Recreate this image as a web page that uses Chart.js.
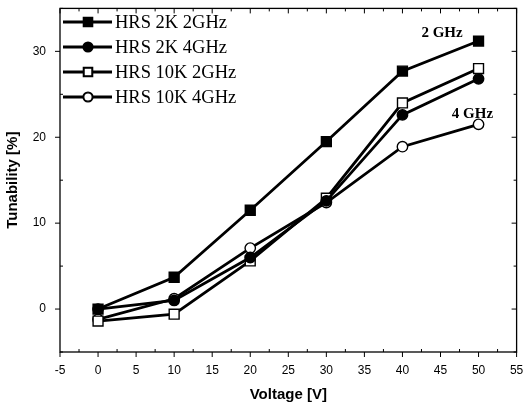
<!DOCTYPE html>
<html>
<head>
<meta charset="utf-8">
<script src="https://cdn.jsdelivr.net/npm/chart.js@4/dist/chart.umd.min.js"></script>
<style>
  html, body { margin: 0; padding: 0; background: #fff; }
  #box { width: 525px; height: 408px; }
</style>
</head>
<body>
<div id="box"><canvas id="tunability"></canvas></div>
<script>
const voltages = [0, 10, 20, 30, 40, 50]
const hrs2k2 = [0.0, 3.7, 11.5, 19.5, 27.7, 31.2]
const hrs2k4 = [0.0, 1.0, 6.0, 12.6, 22.6, 26.8]
const hrs10k2 = [-1.4, -0.6, 5.6, 12.9, 24.0, 28.0]
const hrs10k4 = [-1.2, 1.2, 7.1, 12.4, 18.9, 21.5]
const seriesNames = ["HRS 2K 2GHz", "HRS 2K 4GHz", "HRS 10K 2GHz", "HRS 10K 4GHz"]
const xTicks = [-5, 0, 5, 10, 15, 20, 25, 30, 35, 40, 45, 50, 55]
const yTicks = [0, 10, 20, 30]
const notes = [
  { text: "2 GHz", x: 45.2, y: 32.1 },
  { text: "4 GHz", x: 49.2, y: 22.7 }
]

function pts(ys) {
  return voltages.map((v, i) => ({ x: v, y: ys[i] }))
}

function series(label, ys, style, filled) {
  return {
    label: label,
    data: pts(ys),
    borderColor: "#000",
    borderWidth: 2.8,
    pointStyle: style,
    pointRadius: style === "rect" ? 7 : 5.2,
    pointBorderWidth: 1.4,
    pointBorderColor: "#000",
    pointBackgroundColor: filled ? "#000" : "#fff",
    tension: 0
  }
}

// frame, inward/outward ticks, legend and notes
const decor = {
  id: "decor",
  afterDraw(chart) {
    const ctx = chart.ctx
    const a = chart.chartArea
    const xs = chart.scales.x
    const ys = chart.scales.y
    ctx.save()
    ctx.strokeStyle = "#000"
    ctx.lineWidth = 1.3
    ctx.strokeRect(a.left, a.top, a.right - a.left, a.bottom - a.top)
    ctx.lineWidth = 1
    ctx.beginPath()
    for (let v = -5; v <= 55; v += 2.5) {
      const px = xs.getPixelForValue(v)
      const major = v % 5 === 0
      if (major) {
        ctx.moveTo(px, a.bottom); ctx.lineTo(px, a.bottom + 5)
      } else {
        ctx.moveTo(px, a.bottom); ctx.lineTo(px, a.bottom - 3)
      }
      ctx.moveTo(px, a.top); ctx.lineTo(px, a.top + (major ? 5 : 3))
    }
    for (let v = -5; v <= 35; v += 5) {
      const py = ys.getPixelForValue(v)
      const major = v % 10 === 0
      if (major) {
        ctx.moveTo(a.left, py); ctx.lineTo(a.left - 5, py)
      } else {
        ctx.moveTo(a.left, py); ctx.lineTo(a.left + 3, py)
      }
      ctx.moveTo(a.right, py); ctx.lineTo(a.right - (major ? 5 : 3), py)
    }
    ctx.stroke()

    // legend
    ctx.font = "18.5px 'Liberation Serif', serif"
    ctx.textBaseline = "middle"
    ctx.fillStyle = "#000"
    const rows = [22, 47, 72, 97]
    chart.data.datasets.forEach((ds, i) => {
      const y = rows[i]
      ctx.lineWidth = 2.8
      ctx.beginPath()
      ctx.moveTo(a.left + 3, y); ctx.lineTo(a.left + 52, y)
      ctx.stroke()
      Chart.helpers.drawPoint(ctx, {
        pointStyle: ds.pointStyle,
        radius: ds.pointStyle === "rect" ? 5.5 : 4.2,
        borderWidth: 1.2
      }, a.left + 28, y)
      ctx.fillStyle = ds.pointBackgroundColor
      ctx.fill()
      ctx.lineWidth = 1.2
      ctx.stroke()
      ctx.fillStyle = "#000"
      ctx.fillText(ds.label, a.left + 55, y + 1)
    })

    ctx.font = "bold 15px 'Liberation Serif', serif"
    ctx.textAlign = "center"
    notes.forEach(n => {
      ctx.fillText(n.text, xs.getPixelForValue(n.x), ys.getPixelForValue(n.y))
    })
    ctx.restore()
  }
}

const ctx = document.getElementById("tunability").getContext("2d")
const myChart = new Chart(ctx, {
  type: "line",
  data: {
    datasets: [
      series(seriesNames[0], hrs2k2, "rect", true),
      series(seriesNames[1], hrs2k4, "circle", true),
      series(seriesNames[2], hrs10k2, "rect", false),
      series(seriesNames[3], hrs10k4, "circle", false)
    ]
  },
  options: {
    responsive: true,
    maintainAspectRatio: false,
    animation: false,
    layout: { padding: { top: 6, right: 6, left: 0, bottom: 0 } },
    plugins: {
      legend: { display: false },
      tooltip: { enabled: false }
    },
    scales: {
      x: {
        type: "linear",
        min: -5,
        max: 55,
        afterBuildTicks: s => { s.ticks = xTicks.map(v => ({ value: v })) },
        afterFit: s => { s.height = 56; s.paddingLeft = 0; s.paddingRight = 0 },
        grid: { display: false },
        border: { display: false },
        ticks: {
          color: "#000",
          padding: 3,
          maxRotation: 0,
          font: { family: "'Liberation Sans', Arial, sans-serif", size: 12 }
        },
        title: {
          display: true,
          text: "Voltage [V]",
          color: "#000",
          padding: { top: 10 },
          font: { family: "'Liberation Sans', Arial, sans-serif", size: 15, weight: "bold" }
        }
      },
      y: {
        min: -5,
        max: 35,
        afterBuildTicks: s => { s.ticks = yTicks.map(v => ({ value: v })) },
        afterFit: s => { s.width = 60; s.paddingTop = 0; s.paddingBottom = 0 },
        grid: { display: false },
        border: { display: false },
        ticks: {
          color: "#000",
          padding: 6,
          font: { family: "'Liberation Sans', Arial, sans-serif", size: 12 }
        },
        title: {
          display: true,
          text: "Tunability [%]",
          color: "#000",
          padding: { bottom: 6 },
          font: { family: "'Liberation Sans', Arial, sans-serif", size: 15, weight: "bold" }
        }
      }
    }
  },
  plugins: [decor]
})
</script>
</body>
</html>
